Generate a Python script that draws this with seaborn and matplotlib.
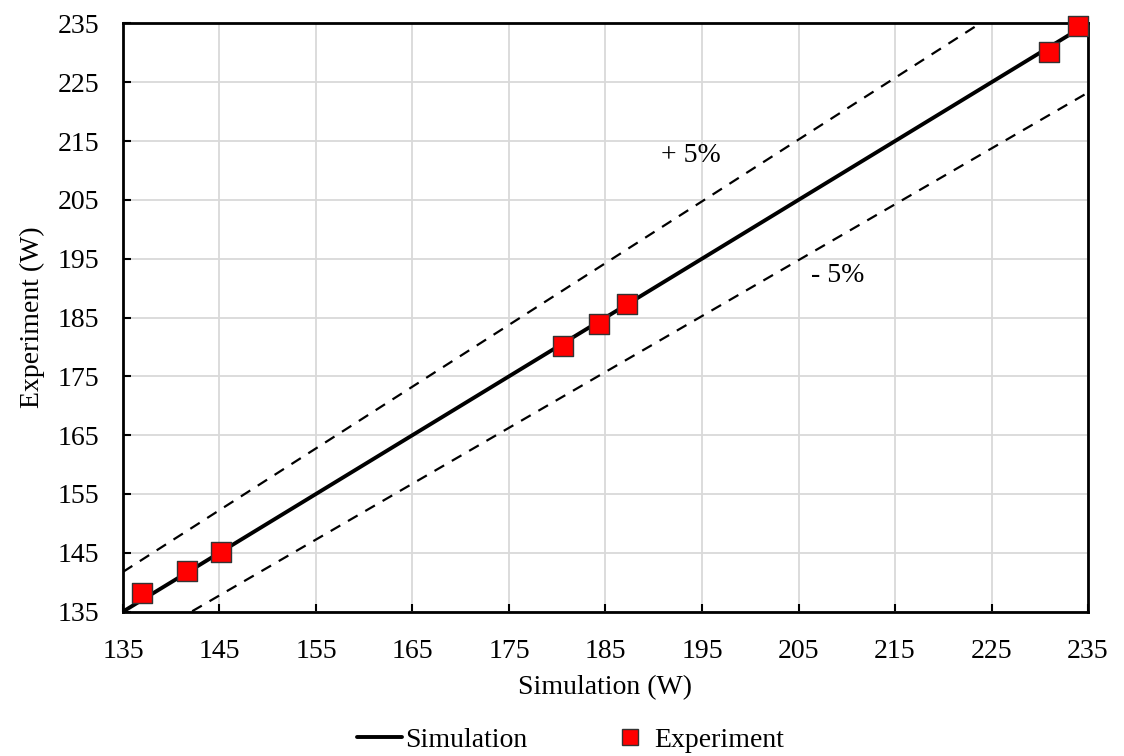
import matplotlib
matplotlib.use("Agg")
import matplotlib.pyplot as plt
import seaborn as sns
import numpy as np
import pandas as pd
from matplotlib.lines import Line2D

# Data
sim_values = [137.0, 141.6, 145.2, 180.6, 184.3, 187.2, 231.0, 234.0]
exp_values = [138.2, 141.9, 145.1, 180.1, 183.9, 187.3, 230.1, 234.5]
ref_line_x = [135, 235]
plus_factor = 1.05
minus_factor = 0.95
ticks = [135, 145, 155, 165, 175, 185, 195, 205, 215, 225, 235]

sns.set_style("white")
plt.rcParams['font.family'] = ['Liberation Serif', 'DejaVu Serif']
plt.rcParams['font.size'] = 20
plt.rcParams['text.color'] = 'black'
plt.rcParams['axes.labelcolor'] = 'black'

fig = plt.figure(figsize=(11.24, 7.56), dpi=100)
ax = fig.add_axes([0.1094, 0.191, 0.968 - 0.1094, 0.969 - 0.191])

line_df = pd.DataFrame({
    "x": ref_line_x,
    "y": ref_line_x,
    "plus": [v * plus_factor for v in ref_line_x],
    "minus": [v * minus_factor for v in ref_line_x],
})
pts = pd.DataFrame({"sim": sim_values, "exp": exp_values})

sns.lineplot(data=line_df, x="x", y="plus", ax=ax, color="black", lw=1.6,
             linestyle=(0, (5, 4)), legend=False)
sns.lineplot(data=line_df, x="x", y="minus", ax=ax, color="black", lw=1.6,
             linestyle=(0, (5, 4)), legend=False)
sns.lineplot(data=line_df, x="x", y="y", ax=ax, color="black", lw=2.8, legend=False)
sns.scatterplot(data=pts, x="sim", y="exp", ax=ax, marker="s", s=190,
                color="#ff0000", edgecolor="#333333", linewidth=1.0,
                clip_on=False, zorder=5, legend=False)

ax.set_xlim(135, 235)
ax.set_ylim(135, 235)
ax.set_xticks(ticks)
ax.set_yticks(ticks)
ax.grid(True, color="#d9d9d9", lw=1.3)
ax.set_axisbelow(True)
for sp in ax.spines.values():
    sp.set_visible(True)
    sp.set_color("black")
    sp.set_linewidth(2)
ax.tick_params(direction="in", length=6, width=1.5, colors="black",
               labelsize=20, bottom=True, left=True)
ax.tick_params(axis="x", pad=20)
ax.tick_params(axis="y", pad=17)
ax.set_xlabel("Simulation (W)", fontsize=20, labelpad=8)
ax.set_ylabel("Experiment (W)", fontsize=20, labelpad=9)

ax.text(193.8, 212.6, "+ 5%", fontsize=20, ha="center", va="center")
ax.text(209.1, 192.2, "- 5%", fontsize=20, ha="center", va="center")

handles = [
    Line2D([0], [0], color="black", lw=2.8),
    Line2D([0], [0], marker="s", color="none", markerfacecolor="#ff0000",
           markeredgecolor="#333333", markersize=11),
]
fig.legend(handles, ["Simulation", "Experiment"], loc="lower center",
           bbox_to_anchor=(0.508, -0.029), ncol=2, frameon=False, fontsize=20,
           columnspacing=2.9, handlelength=1.6, handletextpad=0.1)

fig.savefig("out.png", dpi=100)
